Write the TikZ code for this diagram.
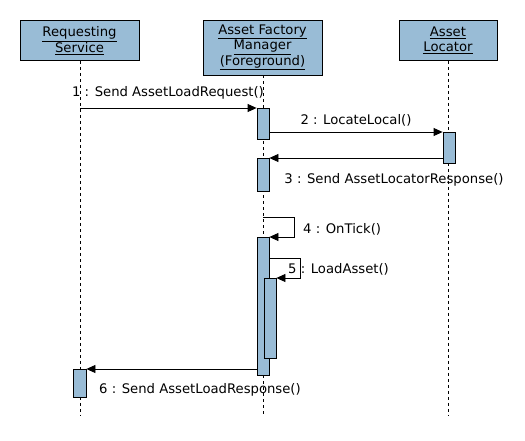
\documentclass[tikz,border=0pt]{standalone}
\usepackage{fontspec}
\setmainfont{DejaVu Sans}
\usetikzlibrary{arrows.meta}
\definecolor{actfill}{RGB}{153,188,214}
\tikzset{
  obj/.style={draw, fill=actfill, line width=0.8pt, inner sep=0pt, align=center,
    font=\fontsize{13.2}{15.5}\selectfont},
  act/.style={draw, fill=actfill, line width=0.8pt, inner sep=0pt, minimum width=12pt, anchor=north},
  life/.style={line width=0.8pt, dash pattern=on 3pt off 3pt},
  msg/.style={line width=0.8pt, -{Triangle[length=9pt,width=8pt]}},
  lbl/.style={inner sep=0pt, font=\fontsize{13.2}{15}\selectfont, text=black}
}
\begin{document}
\begin{tikzpicture}[x=1pt,y=-1pt]
\useasboundingbox (0,0) rectangle (525,440);
% headers
\node[obj, minimum width=119pt, minimum height=40pt] (rs) at (79.5,40.5) {\underline{Requesting}\\\underline{Service}};
\node[obj, minimum width=119pt, minimum height=55pt] (afm) at (262.5,47.5) {\underline{Asset Factory}\\\underline{Manager}\\\underline{(Foreground)}};
\node[obj, minimum width=98pt, minimum height=40pt] (al) at (448,40.5) {\underline{Asset}\\\underline{Locator}};
% lifeline ends
\coordinate (rsend) at (80,415);
\coordinate (afmend) at (263,415);
\coordinate (alend) at (448,415);
\draw[life] (rs.south -| rsend) -- (rsend);
\draw[life] (afm.south -| afmend) -- (afmend);
\draw[life] (al.south -| alend) -- (alend);
% activations
\node[act, minimum height=31pt] (a1) at (263,108) {};
\node[act, minimum height=33pt] (a2) at (263,158) {};
\node[act, minimum height=31pt] (l1) at (449,132) {};
\node[act, minimum height=138pt] (a3) at (263,237) {};
\node[act, minimum height=80pt] (a4) at (270,278) {};
\node[act, minimum width=13pt, minimum height=28pt] (r1) at (79.5,369) {};
% messages
\coordinate (m1s) at (80,108);
\draw[msg] (m1s) -- (a1.north west);
\node[lbl] (t1) at (168,93) {1 : Send AssetLoadRequest()};
\draw[msg] (a1.east |- l1.north) -- (l1.north west);
\node[lbl] (t2) at (356,120) {2 : LocateLocal()};
\draw[msg] (l1.west |- a2.north) -- (a2.north east);
\node[lbl] (t3) at (394,180) {3 : Send AssetLocatorResponse()};
\coordinate (m4s) at (263,217);
\coordinate (m4r) at (294,217);
\draw[msg] (m4s) -- (m4r) |- (a3.north east);
\node[lbl, anchor=west] (t4) at (303,229) {4 : OnTick()};
\coordinate (m5s) at (269,258);
\coordinate (m5r) at (300,258);
\draw[msg] (m5s) -- (m5r) |- (a4.north east);
\node[lbl, anchor=west] (t5) at (288,269) {5 : LoadAsset()};
\draw[msg] (a3.west |- r1.north) -- (r1.north east);
\node[lbl] (t6) at (200,390) {6 : Send AssetLoadResponse()};
\end{tikzpicture}
\end{document}
